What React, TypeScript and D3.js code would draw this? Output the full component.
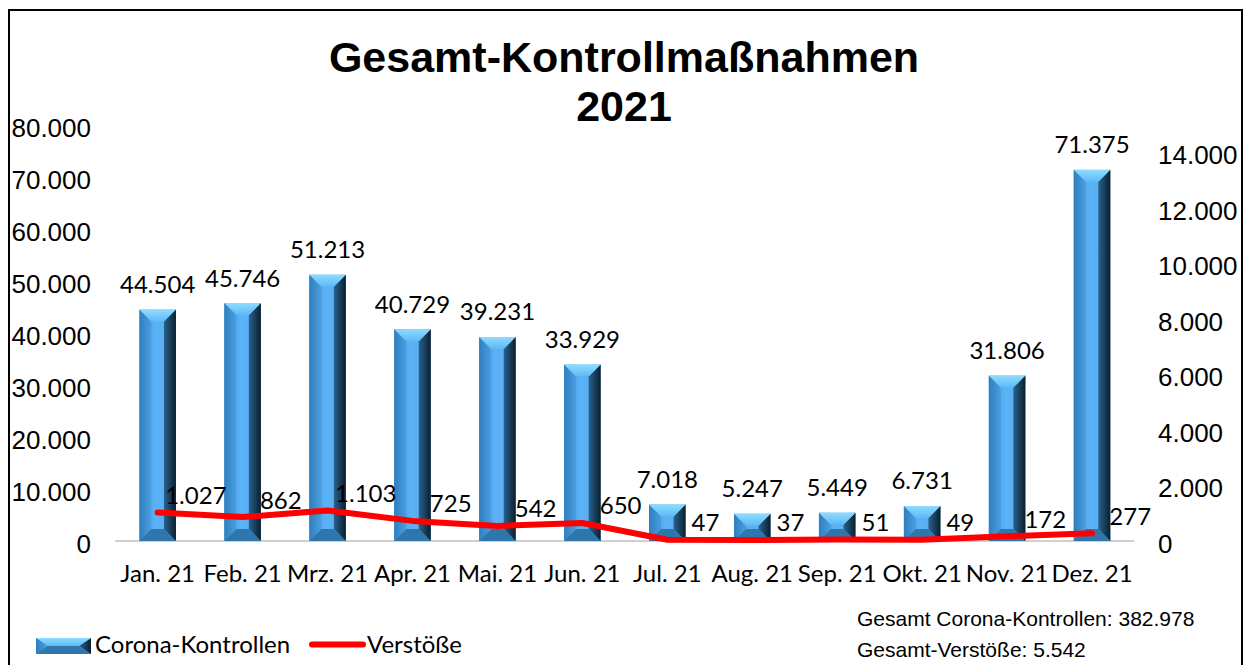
import React from "react";
import * as d3 from "d3";

const months = ["Jan. 21", "Feb. 21", "Mrz. 21", "Apr. 21", "Mai. 21", "Jun. 21", "Jul. 21", "Aug. 21", "Sep. 21", "Okt. 21", "Nov. 21", "Dez. 21"];
const kontrollen = [44504, 45746, 51213, 40729, 39231, 33929, 7018, 5247, 5449, 6731, 31806, 71375];
const verstoesse = [1027, 862, 1103, 725, 542, 650, 47, 37, 51, 49, 172, 277];
const leftTicks = [0, 10000, 20000, 30000, 40000, 50000, 60000, 70000, 80000];
const rightTicks = [0, 2000, 4000, 6000, 8000, 10000, 12000, 14000];
const titleLines = ["Gesamt-Kontrollmaßnahmen", "2021"];
const totalsLines = ["Gesamt Corona-Kontrollen: 382.978", "Gesamt-Verstöße: 5.542"];
const legendLabels = ["Corona-Kontrollen", "Verstöße"];

const W = 1248;
const H = 665;
const fmt = (v: number) => d3.format(",")(v).replace(/,/g, ".");
const LABEL_FONT = "Lato, 'Open Sans', sans-serif";
const AXIS_FONT = "'Liberation Sans', Arial, sans-serif";

function Bevel({ x, y, w, h, id }: { x: number; y: number; w: number; h: number; id: string }) {
  const bx = Math.min(12, w / 2);
  const by = Math.min(12, h / 2);
  const x0 = x, x1 = x + w, y0 = y, y1 = y + h;
  const ix0 = x0 + bx, ix1 = x1 - bx, iy0 = y0 + by, iy1 = y1 - by;
  const pts = (a: number[][]) => a.map((p) => p.join(",")).join(" ");
  return (
    <g>
      <rect x={x0} y={y0} width={w} height={h} fill="url(#gFront)" />
      <polygon points={pts([[x0, y0], [ix0, iy0], [ix0, iy1], [x0, y1]])} fill="url(#gLeft)" />
      <polygon points={pts([[x1, y0], [ix1, iy0], [ix1, iy1], [x1, y1]])} fill="url(#gRight)" />
      <polygon points={pts([[x0, y0], [x1, y0], [ix1, iy0], [ix0, iy0]])} fill="url(#gTop)" />
      <polygon points={pts([[x0, y1], [x1, y1], [ix1, iy1], [ix0, iy1]])} fill="#2f76ad" />
    </g>
  );
}

export default function App() {
  const x = d3.scaleBand<string>().domain(months).range([115.2, 1134.5]).paddingInner(0.57).paddingOuter(0.285);
  const y = d3.scaleLinear().domain([0, 80000]).range([541, 125]);
  const y2 = d3.scaleLinear().domain([0, 15000]).range([541, 125]);
  const bw = x.bandwidth();
  const cx = (m: string) => (x(m) as number) + bw / 2;
  const step = x.step();

  const line = d3
    .line<number>()
    .x((_, i) => cx(months[i]))
    .y((d) => y2(d));

  return (
    <svg width={W} height={H} style={{ position: "absolute", left: 0, top: 0, background: "#fff" }}>
      <defs>
        <linearGradient id="gFront" x1="0" x2="1" y1="0" y2="0">
          <stop offset="0" stopColor="#3f95d6" />
          <stop offset="0.45" stopColor="#5cb2f7" />
          <stop offset="0.8" stopColor="#5aaef2" />
          <stop offset="1" stopColor="#3d86c0" />
        </linearGradient>
        <linearGradient id="gLeft" x1="0" x2="1" y1="0" y2="0">
          <stop offset="0" stopColor="#2f7fbf" />
          <stop offset="1" stopColor="#4a9ee0" />
        </linearGradient>
        <linearGradient id="gRight" x1="0" x2="1" y1="0" y2="0">
          <stop offset="0" stopColor="#2a628e" />
          <stop offset="0.6" stopColor="#163a55" />
          <stop offset="1" stopColor="#0b1e2d" />
        </linearGradient>
        <linearGradient id="gTop" x1="0" x2="0" y1="0" y2="1">
          <stop offset="0" stopColor="#8edcff" />
          <stop offset="1" stopColor="#5cbaf5" />
        </linearGradient>
      </defs>

      {/* frame */}
      <path d={`M9,${H + 2} L9,10 L1242,10 L1242,${H + 2}`} fill="none" stroke="#000" strokeWidth={2} />

      {/* title */}
      {titleLines.map((t, i) => (
        <text key={t} x={624} y={72 + i * 49} textAnchor="middle" fontFamily={AXIS_FONT} fontWeight="bold" fontSize={43} fill="#000">
          {t}
        </text>
      ))}

      {/* left axis labels */}
      {leftTicks.map((t) => (
        <text key={"l" + t} x={91} y={y(t) + 11.5} textAnchor="end" fontFamily={AXIS_FONT} fontSize={26} fill="#000">
          {fmt(t)}
        </text>
      ))}
      {/* right axis labels */}
      {rightTicks.map((t) => (
        <text key={"r" + t} x={1158} y={y2(t) + 11.5} textAnchor="start" fontFamily={AXIS_FONT} fontSize={26} fill="#000">
          {fmt(t)}
        </text>
      ))}

      {/* baseline */}
      <line x1={115.2} x2={1134.5} y1={541} y2={541} stroke="#d0d0d0" strokeWidth={2} />

      {/* bars */}
      {kontrollen.map((v, i) => {
        const m = months[i];
        return <Bevel key={m} id={m} x={x(m) as number} y={y(v)} w={bw} h={y(0) - y(v)} />;
      })}

      {/* bar value labels */}
      {kontrollen.map((v, i) => (
        <text key={"bl" + i} x={cx(months[i])} y={y(v) - 16.5} textAnchor="middle" fontFamily={LABEL_FONT} fontSize={24} fill="#000">
          {fmt(v)}
        </text>
      ))}

      {/* line */}
      <path d={line(verstoesse) || ""} fill="none" stroke="#ff0000" strokeWidth={6} strokeLinecap="round" strokeLinejoin="round" />

      {/* line labels */}
      {verstoesse.map((v, i) => (
        <text key={"ll" + i} x={cx(months[i]) + step * 0.45} y={y2(v) - 8.5} textAnchor="middle" fontFamily={LABEL_FONT} fontSize={24} fill="#000">
          {fmt(v)}
        </text>
      ))}

      {/* x labels */}
      {months.map((m) => (
        <text key={"x" + m} x={cx(m)} y={582} textAnchor="middle" fontFamily={LABEL_FONT} fontSize={24} fill="#000">
          {m}
        </text>
      ))}

      {/* legend */}
      <Bevel id="leg" x={36} y={638} w={55} h={16} />
      <text x={95} y={653} fontFamily={LABEL_FONT} fontSize={24} fill="#000">
        {legendLabels[0]}
      </text>
      <line x1={312} x2={363} y1={644.5} y2={644.5} stroke="#ff0000" strokeWidth={6} strokeLinecap="round" />
      <text x={367} y={653} fontFamily={LABEL_FONT} fontSize={24} fill="#000">
        {legendLabels[1]}
      </text>

      {/* totals */}
      {totalsLines.map((t, i) => (
        <text key={t} x={857} y={626 + i * 31} fontFamily={AXIS_FONT} fontSize={21} fill="#000">
          {t}
        </text>
      ))}
    </svg>
  );
}
